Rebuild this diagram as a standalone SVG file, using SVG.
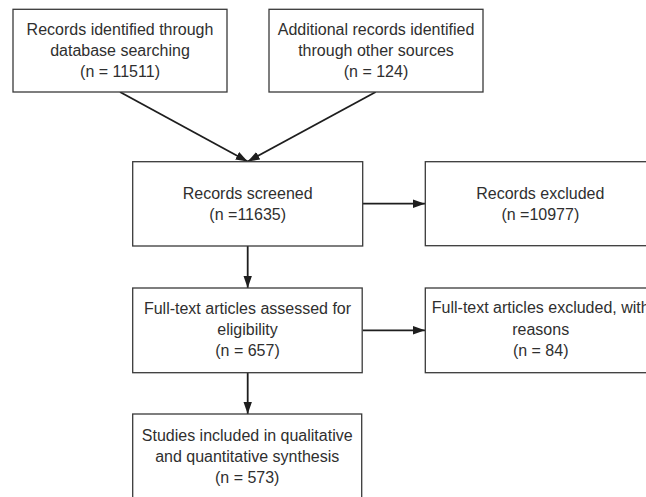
<svg xmlns="http://www.w3.org/2000/svg" width="646" height="497" viewBox="0 0 646 497">
<style>
.box{fill:#fff;stroke:#3a3a3a;stroke-width:1.3}
.t{font-family:"Liberation Sans",Arial,Helvetica,sans-serif;font-size:16px;fill:#2f2f2f;text-anchor:middle}
.c{stroke:#1e1e1e;stroke-width:1.8;fill:none}
</style>
<defs>
<marker id="ah" viewBox="0 0 12 10" refX="12" refY="5" markerWidth="12" markerHeight="10" markerUnits="userSpaceOnUse" orient="auto">
<path d="M0,0.8 L12,5 L0,9.2 Z" fill="#1e1e1e"/>
</marker>
</defs>
<rect width="646" height="497" fill="#fff"/>
<g id="connectors">
<line class="c" x1="120" y1="92" x2="247.7" y2="161.5" marker-end="url(#ah)"/>
<line class="c" x1="375.7" y1="92" x2="247.7" y2="161.5" marker-end="url(#ah)"/>
<line class="c" x1="362.7" y1="203.7" x2="425" y2="203.7" marker-end="url(#ah)"/>
<line class="c" x1="247.7" y1="246" x2="247.7" y2="288" marker-end="url(#ah)"/>
<line class="c" x1="362.7" y1="330.3" x2="425" y2="330.3" marker-end="url(#ah)"/>
<line class="c" x1="247.7" y1="372.7" x2="247.7" y2="414" marker-end="url(#ah)"/>
</g>
<g id="n1">
<rect class="box" x="13" y="9.3" width="214" height="82.7"/>
<text class="t" x="120" y="35">Records identified through</text>
<text class="t" x="120" y="56">database searching</text>
<text class="t" x="120" y="77">(n = 11511)</text>
</g>
<g id="n2">
<rect class="box" x="269" y="9.3" width="214" height="82.7"/>
<text class="t" x="376" y="35">Additional records identified</text>
<text class="t" x="376" y="56">through other sources</text>
<text class="t" x="376" y="77">(n = 124)</text>
</g>
<g id="n3">
<rect class="box" x="132.7" y="161.7" width="230" height="84.3"/>
<text class="t" x="247.7" y="198.5">Records screened</text>
<text class="t" x="247.7" y="219.5">(n =11635)</text>
</g>
<g id="n4">
<rect class="box" x="425.3" y="161.7" width="230" height="84"/>
<text class="t" x="540.3" y="198.5">Records excluded</text>
<text class="t" x="540.3" y="219.5">(n =10977)</text>
</g>
<g id="n5">
<rect class="box" x="132.7" y="288" width="229.5" height="84.7"/>
<text class="t" x="247.5" y="313.5">Full-text articles assessed for</text>
<text class="t" x="247.5" y="334.5">eligibility</text>
<text class="t" x="247.5" y="355.5">(n = 657)</text>
</g>
<g id="n6">
<rect class="box" x="425.3" y="288" width="230" height="84.7"/>
<text class="t" x="540.7" y="313">Full-text articles excluded, with</text>
<text class="t" x="540.7" y="334.5">reasons</text>
<text class="t" x="540.7" y="355.5">(n = 84)</text>
</g>
<g id="n7">
<rect class="box" x="132.7" y="414" width="229" height="100"/>
<text class="t" x="247.2" y="441">Studies included in qualitative</text>
<text class="t" x="247.2" y="462">and quantitative synthesis</text>
<text class="t" x="247.2" y="483">(n = 573)</text>
</g>
</svg>
